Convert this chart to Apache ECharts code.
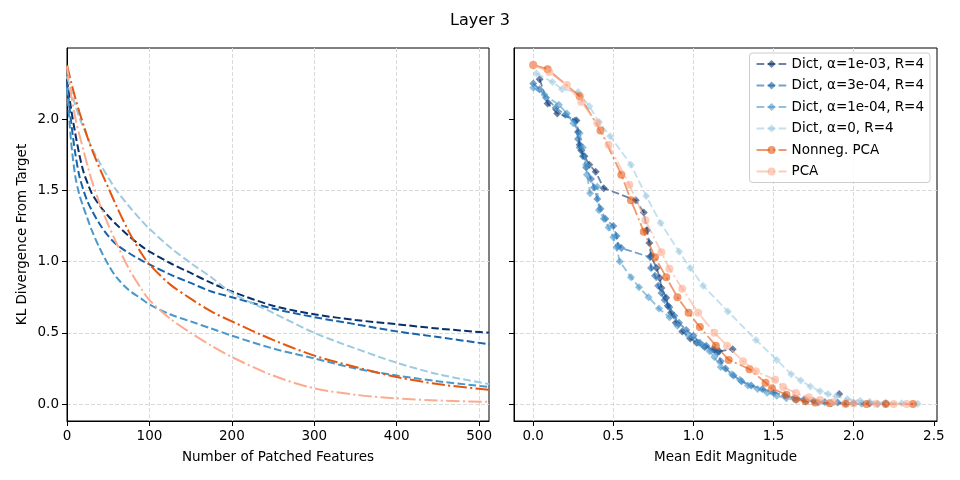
<!DOCTYPE html>
<html>
<head>
<meta charset="utf-8">
<script src="https://cdn.jsdelivr.net/npm/echarts@6/dist/echarts.min.js"></script>
<style>html,body{margin:0;padding:0;background:#fff}#c{width:960px;height:480px}</style>
</head>
<body>
<div id="c"></div>
<script>
// ---------- data ----------
const seriesNames = ['Dict, α=1e-03, R=4', 'Dict, α=3e-04, R=4', 'Dict, α=1e-04, R=4', 'Dict, α=0, R=4', 'Nonneg. PCA', 'PCA'];
const yTicks = [0, 0.5, 1, 1.5, 2];
const editTicks = [0, 0.5, 1, 1.5, 2, 2.5];

// left panel: KL vs number of patched features
const patchedFeatures = [0, 5, 10, 15, 20, 25, 30, 40, 50, 60, 75, 90, 100, 125, 150, 175, 200, 250, 300, 350, 400, 450, 512];
const klDict1e3 = [2.28, 2.07, 1.90, 1.75, 1.63, 1.55, 1.48, 1.39, 1.32, 1.26, 1.18, 1.11, 1.07, 0.99, 0.92, 0.85, 0.79, 0.69, 0.63, 0.59, 0.56, 0.53, 0.50];
const klDict3e4 = [2.25, 1.98, 1.76, 1.60, 1.50, 1.42, 1.36, 1.26, 1.18, 1.12, 1.06, 1.01, 0.98, 0.91, 0.85, 0.79, 0.75, 0.67, 0.61, 0.56, 0.51, 0.47, 0.42];
const klDict1e4 = [2.22, 1.84, 1.60, 1.47, 1.38, 1.30, 1.22, 1.09, 0.98, 0.89, 0.80, 0.74, 0.70, 0.63, 0.58, 0.53, 0.48, 0.39, 0.32, 0.25, 0.20, 0.16, 0.12];
const klDict0   = [2.30, 2.20, 2.10, 2.01, 1.94, 1.87, 1.80, 1.69, 1.59, 1.50, 1.39, 1.29, 1.23, 1.10, 0.99, 0.89, 0.78, 0.64, 0.50, 0.39, 0.29, 0.21, 0.14];
const klNonneg  = [2.38, 2.26, 2.15, 2.05, 1.96, 1.87, 1.79, 1.65, 1.52, 1.39, 1.21, 1.06, 0.98, 0.84, 0.74, 0.65, 0.58, 0.45, 0.34, 0.26, 0.19, 0.14, 0.10];
const klPCA     = [2.37, 2.17, 2.01, 1.89, 1.78, 1.67, 1.57, 1.40, 1.26, 1.13, 0.95, 0.81, 0.73, 0.60, 0.50, 0.41, 0.33, 0.20, 0.11, 0.065, 0.04, 0.025, 0.015];

// right panel: [mean edit magnitude, KL]
const editDict1e3 = [[0.04,2.28],[0.09,2.11],[0.15,2.04],[0.27,1.99],[0.28,1.91],[0.29,1.82],[0.30,1.78],[0.32,1.74],[0.35,1.68],[0.39,1.63],[0.44,1.515],[0.64,1.43],[0.69,1.345],[0.71,1.22],[0.725,1.13],[0.735,1.04],[0.77,0.955],[0.79,0.885],[0.80,0.815],[0.83,0.746],[0.84,0.69],[0.86,0.64],[0.89,0.57],[0.93,0.51],[0.98,0.46],[1.02,0.43],[1.07,0.40],[1.13,0.38],[1.16,0.37],[1.245,0.385],'-',[1.91,0.07]];
const editDict3e4 = [[0.0,2.25],[0.04,2.21],[0.08,2.15],[0.14,2.08],[0.20,2.03],[0.26,1.99],[0.28,1.86],[0.29,1.80],[0.31,1.74],[0.33,1.66],[0.36,1.58],[0.38,1.52],[0.40,1.44],[0.42,1.37],[0.45,1.30],[0.50,1.25],[0.52,1.18],[0.53,1.11],[0.55,1.095],[0.73,1.03],[0.735,0.955],[0.76,0.90],[0.78,0.83],[0.80,0.78],[0.82,0.73],[0.85,0.68],[0.88,0.62],[0.91,0.57],[0.955,0.52],[1.0,0.48],[1.04,0.43],[1.08,0.41],[1.12,0.385],[1.15,0.36],[1.17,0.30],[1.20,0.25],[1.25,0.20],[1.30,0.16],[1.36,0.13],[1.43,0.105],[1.50,0.08],[1.57,0.06],[1.63,0.045],[1.69,0.032],[1.75,0.022],[1.82,0.015],[1.90,0.01],[2.0,0.006],[2.10,0.004],[2.20,0.002]];
const editDict1e4 = [[0.0,2.22],[0.07,2.17],[0.16,2.10],[0.21,2.04],[0.25,1.97],[0.29,1.90],[0.31,1.80],[0.33,1.68],[0.335,1.61],[0.355,1.48],[0.40,1.525],[0.41,1.36],[0.44,1.30],[0.47,1.24],[0.50,1.17],[0.52,1.10],[0.54,1.00],[0.61,0.89],[0.66,0.82],[0.72,0.75],[0.785,0.67],[0.85,0.61],[0.90,0.55],[0.97,0.48],[1.03,0.43],[1.06,0.41],[1.10,0.37],[1.13,0.33],[1.17,0.26],[1.24,0.21],[1.29,0.17],[1.34,0.13],[1.40,0.105],[1.46,0.08],[1.52,0.058],[1.58,0.04],[1.64,0.027],[1.70,0.017],[1.78,0.01],[1.86,0.006],[1.95,0.003],[2.05,0.002],[2.15,0.001]];
const editDict0 = [[0.02,2.32],[0.12,2.26],[0.18,2.21],[0.28,2.19],[0.35,2.09],[0.41,1.98],[0.48,1.88],[0.61,1.68],[0.705,1.46],[0.795,1.27],[0.91,1.07],[0.98,0.955],[1.06,0.83],[1.215,0.65],[1.39,0.45],[1.52,0.31],[1.61,0.21],[1.67,0.165],[1.73,0.124],[1.79,0.09],[1.84,0.07],[1.89,0.054],[1.96,0.035],[2.04,0.023],[2.10,0.016],[2.20,0.01],[2.30,0.005],[2.40,0.002]];
const editNonneg = [[0,2.38],[0.09,2.35],[0.29,2.16],[0.42,1.92],[0.55,1.61],[0.61,1.43],[0.69,1.21],[0.76,1.03],[0.83,0.89],[0.90,0.75],[0.97,0.64],[1.04,0.54],[1.14,0.41],[1.22,0.31],[1.35,0.245],[1.45,0.15],[1.49,0.11],[1.58,0.065],[1.64,0.035],[1.70,0.02],[1.76,0.01],[1.85,0.005],[1.95,0.002],[2.08,0.001],[2.20,0],[2.37,0]];
const editPCA = [[0,2.38],[0.10,2.33],[0.21,2.24],[0.30,2.12],[0.40,1.97],[0.47,1.82],[0.60,1.54],[0.70,1.29],[0.80,1.065],[0.85,0.95],[0.93,0.81],[1.03,0.64],[1.13,0.50],[1.21,0.41],[1.31,0.30],[1.39,0.23],[1.51,0.17],[1.56,0.12],[1.64,0.077],[1.72,0.047],[1.79,0.028],[1.87,0.012],[2.0,0.004],[2.14,0.002],[2.25,0.001],[2.33,0]];

// ---------- style ----------
const colors = ['#08306b', '#1764ab', '#4a98c9', '#9dcae1', '#e6550d', '#fcab8f'];
const FONT = 'DejaVu Sans';
const dashed = [7.7, 3.3];
const dashDot = [13.3, 3.3, 2.1, 3.3];
const gridLine = {show: true, showMaxLine: false, lineStyle: {color: '#d9d9d9', width: 1, type: [4, 2]}};

const leftData = [klDict1e3, klDict3e4, klDict1e4, klDict0, klNonneg, klPCA];
const rightData = [editDict1e3, editDict3e4, editDict1e4, editDict0, editNonneg, editPCA];

const series = [];
// right panel first (legend uses first series of each name)
rightData.forEach((d, i) => {
  const isPCA = i >= 4;
  series.push({
    type: 'line', name: seriesNames[i], xAxisIndex: 1, yAxisIndex: 1,
    data: d, symbol: isPCA ? 'circle' : 'diamond', symbolSize: 8, showSymbol: true,
    connectNulls: false, animation: false, z: 2 + i,
    itemStyle: {color: colors[i], opacity: 0.6, borderWidth: 0},
    lineStyle: {color: colors[i], width: 1.8, opacity: 0.6, type: isPCA ? dashDot : dashed}
  });
});
leftData.forEach((d, i) => {
  const isPCA = i >= 4;
  series.push({
    type: 'line', name: seriesNames[i], xAxisIndex: 0, yAxisIndex: 0,
    data: patchedFeatures.map((x, k) => [x, d[k]]),
    showSymbol: false, symbol: 'none', smooth: 0.3,
    animation: false, z: 2 + i,
    lineStyle: {color: colors[i], width: 2, type: isPCA ? dashDot : dashed}
  });
});

const axisCommon = {
  axisLine: {show: true, onZero: false, lineStyle: {color: '#000', width: 1}},
  axisTick: {show: true, length: 5, lineStyle: {color: '#000'}},
  axisLabel: {color: '#000', fontFamily: FONT, fontSize: 13.5, margin: 8},
  nameTextStyle: {color: '#000', fontFamily: FONT, fontSize: 13.5},
  splitLine: gridLine
};

const chart = echarts.init(document.getElementById('c'), null, {renderer: 'canvas'});
chart.setOption({
  backgroundColor: '#fff',
  animation: false,
  title: {text: 'Layer 3', left: 'center', top: 8,
    textStyle: {fontFamily: FONT, fontSize: 16, fontWeight: 'normal', color: '#000'}},
  legend: {
    data: seriesNames, orient: 'vertical', right: 30, top: 53,
    itemWidth: 30, itemHeight: 10, itemGap: 7.5,
    padding: [4, 6, 4, 6], borderColor: '#cccccc', borderWidth: 1, borderRadius: 3,
    backgroundColor: 'rgba(255,255,255,0.85)',
    textStyle: {fontFamily: FONT, fontSize: 13.5, color: '#000'},
    selectedMode: false
  },
  grid: [
    {left: 67, top: 48, width: 422, height: 373, show: true, borderColor: '#000', borderWidth: 1, backgroundColor: 'transparent'},
    {left: 514, top: 48, width: 423, height: 373, show: true, borderColor: '#000', borderWidth: 1, backgroundColor: 'transparent'}
  ],
  xAxis: [
    Object.assign({}, axisCommon, {
      type: 'value', gridIndex: 0, min: 0, max: 512, interval: 100,
      name: 'Number of Patched Features', nameLocation: 'middle', nameGap: 29,
      axisLabel: Object.assign({}, axisCommon.axisLabel, {showMaxLabel: false})
    }),
    Object.assign({}, axisCommon, {
      type: 'value', gridIndex: 1, min: -0.12, max: 2.52,
      name: 'Mean Edit Magnitude', nameLocation: 'middle', nameGap: 29,
      axisTick: Object.assign({}, axisCommon.axisTick, {customValues: editTicks}),
      axisLabel: Object.assign({}, axisCommon.axisLabel, {customValues: editTicks, formatter: v => v.toFixed(1)})
    })
  ],
  yAxis: [
    Object.assign({}, axisCommon, {
      type: 'value', gridIndex: 0, min: -0.119, max: 2.499,
      name: 'KL Divergence From Target', nameLocation: 'middle', nameGap: 38,
      axisTick: Object.assign({}, axisCommon.axisTick, {customValues: yTicks}),
      axisLabel: Object.assign({}, axisCommon.axisLabel, {customValues: yTicks, formatter: v => v.toFixed(1)})
    }),
    Object.assign({}, axisCommon, {
      type: 'value', gridIndex: 1, min: -0.119, max: 2.499,
      axisTick: Object.assign({}, axisCommon.axisTick, {customValues: yTicks}),
      axisLabel: Object.assign({}, axisCommon.axisLabel, {show: false, customValues: yTicks})
    })
  ],
  series: series
});
</script>
</body>
</html>
